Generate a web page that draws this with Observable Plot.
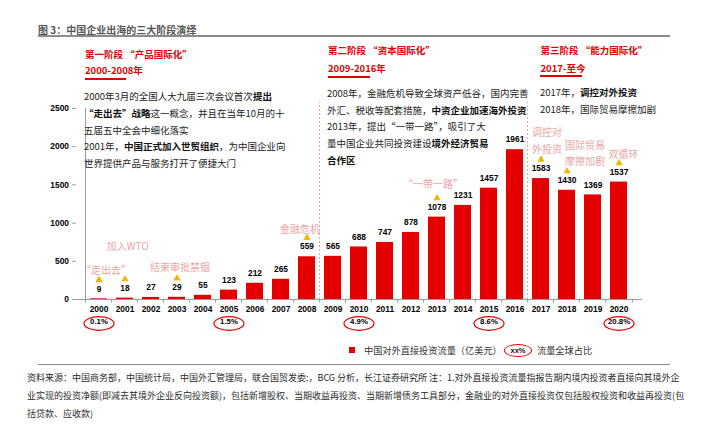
<!DOCTYPE html>
<html>
<head>
<meta charset="utf-8">
<script src="https://cdn.jsdelivr.net/npm/d3@7"></script>
<script src="https://cdn.jsdelivr.net/npm/@observablehq/plot@0.6"></script>
<style>
  body { margin: 0; background: #fff; }
  #wrap { position: relative; width: 714px; height: 441px; overflow: hidden; background: #fff;
          font-family: "Noto Sans CJK SC", "Noto Sans", sans-serif; color: #222; }
  #chart { position: absolute; left: 0; top: 0; }
  .abs { position: absolute; white-space: nowrap; }
  .title { font-size: 10px; color: #555; line-height: 16px; font-weight: 700; }
  .rule { position: absolute; background: #8c8c8c; }
  .phase { font-size: 9.5px; font-weight: 700; color: #e00000; line-height: 16px; }
  .uline { position: absolute; background: #e00000; height: 2px; }
  .body { font-size: 9.5px; line-height: 16.7px; color: #222; }
  .body b { font-weight: 700; color: #111; }
  .legend { font-size: 9.2px; line-height: 14px; color: #333; }
  .foot { font-size: 9px; line-height: 18px; color: #2a2a2a; }
</style>
</head>
<body>
<div id="wrap">
  <div id="chart"></div>

  <div class="abs title" style="left:38px;top:22px">图 3：中国企业出海的三大阶段演绎</div>
  <div class="rule" style="left:38px;top:35px;width:632px;height:2px"></div>

  <div class="abs phase" style="left:85px;top:46px">第一阶段 “产品国际化”</div>
  <div class="abs phase" style="left:85px;top:62px">2000-2008年</div>
  <div class="uline" style="left:85px;top:77.5px;width:41px"></div>
  <div class="abs body" style="left:84px;top:88.3px">2000年3月的全国人大九届三次会议首次<b>提出</b><br><b>“走出去”战略</b>这一概念，并且在当年10月的十<br>五届五中全会中细化落实<br>2001年，<b>中国正式加入世贸组织</b>，为中国企业向<br>世界提供产品与服务打开了便捷大门</div>

  <div class="abs phase" style="left:328px;top:42px">第二阶段 “资本国际化”</div>
  <div class="abs phase" style="left:328px;top:60.3px">2009-2016年</div>
  <div class="uline" style="left:328px;top:76px;width:42px"></div>
  <div class="abs body" style="left:327px;top:85px">2008年，金融危机导致全球资产低谷，国内完善<br>外汇、税收等配套措施，<b>中资企业加速海外投资</b><br>2013年，提出“一带一路”，吸引了大<br>量中国企业共同投资建设<b>境外经济贸易</b><br><b>合作区</b></div>

  <div class="abs phase" style="left:540.5px;top:42px">第三阶段 “能力国际化”</div>
  <div class="abs phase" style="left:540.5px;top:60px">2017-至今</div>
  <div class="uline" style="left:540px;top:75px;width:42px"></div>
  <div class="abs body" style="left:540px;top:84.3px">2017年，<b>调控对外投资</b><br>2018年，国际贸易摩擦加剧</div>

  <div class="abs" style="left:349px;top:347px;width:6px;height:6px;background:#e50000"></div>
  <div class="abs legend" style="left:364px;top:343px">中国对外直接投资流量（亿美元）</div>
  <div class="abs" style="left:504px;top:344px;width:26px;height:11px;border:1.2px solid #e00000;border-radius:50%;font:bold 7.5px 'Liberation Sans',Arial,sans-serif;color:#111;text-align:center;line-height:11px">xx%</div>
  <div class="abs legend" style="left:537px;top:343px">流量全球占比</div>
  <div class="rule" style="left:38px;top:363.5px;width:632px;height:1.5px"></div>

  <div class="abs foot" style="left:27px;top:369px">资料来源：中国商务部，中国统计局，中国外汇管理局，联合国贸发委:，BCG 分析，长江证券研究所 注：1.对外直接投资流量指报告期内境内投资者直接向其境外企<br>业实现的投资净额(即减去其境外企业反向投资额)，包括新增股权、当期收益再投资、当期新增债务工具部分，金融业的对外直接投资仅包括股权投资和收益再投资(包<br>括贷款、应收款)</div>
</div>

<script>
// ---------- data ----------
const years = ["2000","2001","2002","2003","2004","2005","2006","2007","2008","2009","2010",
               "2011","2012","2013","2014","2015","2016","2017","2018","2019","2020"];
const flows = [9, 18, 27, 29, 55, 123, 212, 265, 559, 565, 688,
               747, 878, 1078, 1231, 1457, 1961, 1583, 1430, 1369, 1537];

const shareYears  = ["2000", "2005", "2010", "2015", "2020"];
const shareLabels = ["0.1%", "1.5%", "4.9%", "8.6%", "20.8%"];

const eventYears  = ["2000", "2001", "2003", "2008", "2013", "2017", "2018", "2020"];
const eventLabels = ["“走出去”", "加入WTO", "结束审批禁锢", "金融危机", "“一带一路”",
                     "调控对\n外投资", "国际贸易\n摩擦加剧", "双循环"];

const phaseStartYears = ["2009", "2017"];
const yTicks = [0, 500, 1000, 1500, 2000, 2500];

// ---------- layout (styling only) ----------
const W = 714, H = 441;
const mL = 76, mR = 72, mT = 108, mB = 142;
const step = (W - mL - mR) / years.length;
const eventOffset = {
  "2000": [7, -30.6], "2001": [2.6, -53.6], "2003": [3, -31.8], "2008": [-7, -29.6],
  "2013": [-4, -35], "2017": [6, -39.8], "2018": [18, -38.7], "2020": [4.5, -29.3]
};

const flowByYear = new Map(years.map((y, i) => [y, flows[i]]));
const bars = years.map((year, i) => ({year, flow: flows[i]}));
const events = eventYears.map((year, i) => ({year, label: eventLabels[i], flow: flowByYear.get(year)}));
const shares = shareYears.map((year, i) => ({year, label: shareLabels[i]}));

const ellipse = {
  draw(ctx) {
    const rx = 15, ry = 6.8, k = 0.5523;
    ctx.moveTo(rx, 0);
    ctx.bezierCurveTo(rx, ry * k, rx * k, ry, 0, ry);
    ctx.bezierCurveTo(-rx * k, ry, -rx, ry * k, -rx, 0);
    ctx.bezierCurveTo(-rx, -ry * k, -rx * k, -ry, 0, -ry);
    ctx.bezierCurveTo(rx * k, -ry, rx, -ry * k, rx, 0);
    ctx.closePath();
  }
};

const pink = "#eba5a5";
const cjk = "Noto Sans CJK SC";

const chart = Plot.plot({
  width: W, height: H,
  marginLeft: mL, marginRight: mR, marginTop: mT, marginBottom: mB,
  style: {fontFamily: "'Liberation Sans', Arial, sans-serif", fontSize: "8.4px", fontWeight: "bold", color: "#000", background: "transparent", overflow: "visible"},
  x: {type: "band", domain: years, paddingInner: 0.34, paddingOuter: 0.17, axis: null},
  y: {domain: [0, 2500], axis: null},
  marks: [
    // phase separators
    Plot.ruleX(phaseStartYears, {x: d => d, y1: 0, y2: 2580, dx: -step / 2, stroke: "#f0a0a0", strokeWidth: 1, strokeDasharray: "2,2"}),
    // bars
    Plot.barY(bars, {x: "year", y: "flow", fill: "#e50000"}),
    // axes
    Plot.ruleY([0], {stroke: "#9a9a9a", strokeWidth: 1}),
    Plot.ruleX(["2000"], {x: d => d, y1: 0, y2: 2500, dx: -step / 2, stroke: "#9a9a9a", strokeWidth: 1}),
    Plot.ruleX(years, {x: d => d, y1: 0, y2: -45, dx: -step / 2, stroke: "#9a9a9a"}),
    Plot.ruleX(["2020"], {x: d => d, y1: 0, y2: -45, dx: step / 2, stroke: "#9a9a9a"}),
    Plot.axisY({ticks: yTicks, tickFormat: d3.format("d"), tickSize: 4, tickPadding: 3.5, stroke: "#9a9a9a", fill: "#000", label: null, fontSize: 8.4}),
    Plot.axisX({tickSize: 0, tickPadding: 7, fill: "#000", label: null, fontSize: 8.4}),
    // value labels
    Plot.text(bars, {x: "year", y: "flow", text: d => String(d.flow), dy: -10, fill: "#000"}),
    // event markers
    Plot.dot(events, {x: "year", y: "flow", dy: -19, symbol: "triangle", r: 2.7, fill: "#f5b400", stroke: null}),
    ...events.map(e => Plot.text([e], {
      x: "year", y: "flow", text: "label",
      dx: eventOffset[e.year][0], dy: eventOffset[e.year][1],
      fill: pink, fontFamily: cjk, fontSize: 10, fontWeight: "normal", lineHeight: 1.68
    })),
    // global share ellipses
    Plot.dot(shares, {x: "year", frameAnchor: "bottom", dy: 24, symbol: ellipse, r: 5, stroke: "#e00000", strokeWidth: 1.2, fill: "none"}),
    Plot.text(shares, {x: "year", frameAnchor: "bottom", dy: 24, text: "label", fill: "#000", fontSize: 7.8})
  ]
});
document.getElementById("chart").appendChild(chart);
</script>
</body>
</html>
